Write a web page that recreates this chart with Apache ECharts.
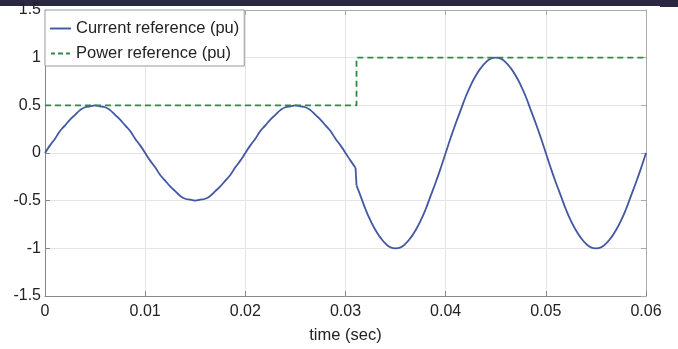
<!DOCTYPE html>
<html>
<head>
<meta charset="utf-8">
<script src="https://cdn.jsdelivr.net/npm/echarts@6/dist/echarts.min.js"></script>
<style>
  html, body { margin: 0; padding: 0; background: #fff; }
  #main { width: 678px; height: 349px; }
</style>
</head>
<body>
<div id="main"></div>
<script>
// values in pu every 0.5 ms
// before the step (t = 0 .. 0.031 s)
var currentA = [0, 0.08, 0.15, 0.23, 0.29, 0.35, 0.40, 0.45, 0.48, 0.49, 0.50,
  0.49, 0.48, 0.45, 0.40, 0.35, 0.29, 0.23, 0.15, 0.08, 0,
  -0.08, -0.15, -0.23, -0.29, -0.35, -0.40, -0.45, -0.48, -0.49, -0.50,
  -0.49, -0.48, -0.45, -0.40, -0.35, -0.29, -0.23, -0.15, -0.08, 0,
  0.08, 0.15, 0.23, 0.29, 0.35, 0.40, 0.45, 0.48, 0.49, 0.50,
  0.49, 0.48, 0.45, 0.40, 0.35, 0.29, 0.23, 0.15, 0.08, 0,
  -0.08, -0.155];

// the small drop at the step
var timeJump = [0.031, 0.0311];
var currentJump = [-0.155, -0.34];

// after the step (t = 0.0311, then 0.0315 .. 0.06 s)
var currentB = [-0.34,
  -0.45, -0.59, -0.71, -0.81, -0.89, -0.95, -0.99, -1.00,
  -0.99, -0.95, -0.89, -0.81, -0.71, -0.59, -0.45, -0.31, -0.16, 0,
  0.16, 0.31, 0.45, 0.59, 0.71, 0.81, 0.89, 0.95, 0.99, 1.00,
  0.99, 0.95, 0.89, 0.81, 0.71, 0.59, 0.45, 0.31, 0.16, 0,
  -0.16, -0.31, -0.45, -0.59, -0.71, -0.81, -0.89, -0.95, -0.99, -1.00,
  -0.99, -0.95, -0.89, -0.81, -0.71, -0.59, -0.45, -0.31, -0.16, 0];

var timePower = [0, 0.0311, 0.0311, 0.06];
var power = [0.5, 0.5, 1, 1];

var step = 0.0005;
var timeA = currentA.map(function (v, i) { return +(i * step).toFixed(4); });
var timeB = currentB.map(function (v, i) { return i === 0 ? 0.0311 : +((62 + i) * step).toFixed(4); });

function pairs(xs, ys) {
  return xs.map(function (x, i) { return [x, ys[i]]; });
}

var blue = '#4258a3';
var green = '#2f8a45';
var font = 'Liberation Sans, Arial, sans-serif';

var chart = echarts.init(document.getElementById('main'));

var curLine = { color: blue, width: 1.8 };

var option = {
  animation: false,
  backgroundColor: '#fff',
  grid: { left: 45, right: 32, top: 10, bottom: 47 },
  graphic: [
    { type: 'rect', shape: { x: 0, y: 0, width: 678, height: 6 }, style: { fill: '#2b2843' } },
    { type: 'rect', shape: { x: 660, y: 0, width: 18, height: 7 }, style: { fill: '#2b2843' } }
  ],
  legend: {
    left: 45, top: 10,
    orient: 'vertical',
    data: [
      { name: 'Current reference (pu)', icon: 'path://M0,0h22v2h-22z' },
      { name: 'Power reference (pu)', icon: 'path://M0,0h4v2h-4z M7,0h5v2h-5z M15,0h4v2h-4z' }
    ],
    backgroundColor: '#fff',
    borderColor: '#999',
    borderWidth: 1,
    borderRadius: 0,
    padding: [10, 5, 4, 5],
    itemWidth: 21,
    itemHeight: 2,
    itemGap: 8,
    textStyle: { fontFamily: font, fontSize: 16.5, color: '#222' }
  },
  xAxis: [{
    type: 'value', min: 0, max: 0.06, interval: 0.01,
    name: 'time (sec)', nameLocation: 'middle', nameGap: 31,
    nameTextStyle: { fontFamily: font, fontSize: 16.5, color: '#222' },
    axisLine: { onZero: false, lineStyle: { color: '#888', width: 1 } },
    axisTick: { inside: true, length: 5, lineStyle: { color: '#888' } },
    axisLabel: {
      fontFamily: font, fontSize: 16, color: '#222', margin: 8,
      formatter: function (v) { return String(+v.toFixed(2)); }
    },
    splitLine: { show: true, lineStyle: { color: '#e4e4e4', width: 1 } }
  }, {
    type: 'value', position: 'top', min: 0, max: 0.06, interval: 0.01,
    axisLine: { onZero: false, lineStyle: { color: '#aaa', width: 1 } },
    axisTick: { inside: true, length: 5, lineStyle: { color: '#aaa' } },
    axisLabel: { show: false },
    splitLine: { show: false }
  }],
  yAxis: [{
    type: 'value', min: -1.5, max: 1.5, interval: 0.5,
    axisLine: { show: true, onZero: false, lineStyle: { color: '#888', width: 1 } },
    axisTick: { show: true, inside: true, length: 5, lineStyle: { color: '#888' } },
    axisLabel: { fontFamily: font, fontSize: 16, color: '#222', margin: 4 },
    splitLine: { show: true, lineStyle: { color: '#e4e4e4', width: 1 } }
  }, {
    type: 'value', position: 'right', min: -1.5, max: 1.5, interval: 0.5,
    axisLine: { show: true, onZero: false, lineStyle: { color: '#aaa', width: 1 } },
    axisTick: { show: true, inside: true, length: 5, lineStyle: { color: '#aaa' } },
    axisLabel: { show: false },
    splitLine: { show: false }
  }],
  series: [
    {
      name: 'Current reference (pu)', type: 'line', smooth: 0.5, symbol: 'none',
      color: blue, lineStyle: curLine, data: pairs(timeA, currentA), z: 3
    },
    {
      name: 'Current reference (pu)', type: 'line', symbol: 'none',
      color: blue, lineStyle: curLine, data: pairs(timeJump, currentJump), z: 3
    },
    {
      name: 'Current reference (pu)', type: 'line', smooth: 0.5, symbol: 'none',
      color: blue, lineStyle: curLine, data: pairs(timeB, currentB), z: 3
    },
    {
      name: 'Power reference (pu)', type: 'line', symbol: 'none',
      color: green, lineStyle: { color: green, width: 1.8, type: [6, 4] },
      data: pairs(timePower, power), z: 4
    }
  ]
};

chart.setOption(option);
</script>
</body>
</html>
